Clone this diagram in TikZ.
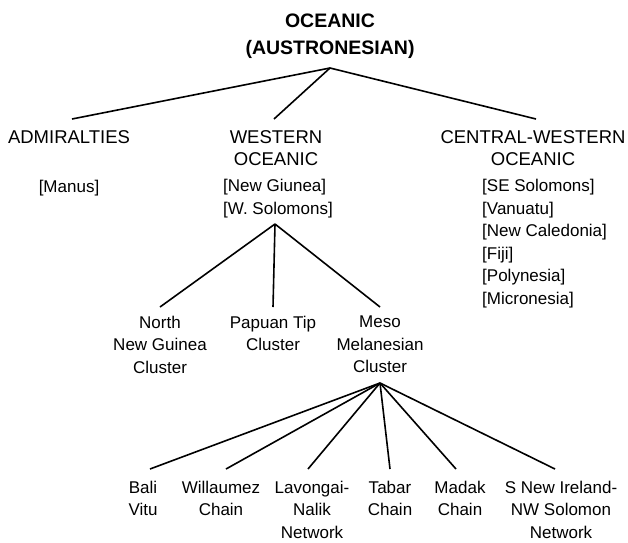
\documentclass[tikz,border=0pt]{standalone}
\usepackage{fontspec}
\setmainfont{Liberation Sans}
\begin{document}
\begin{tikzpicture}[x=1pt,y=-1pt,
  lbl/.style={font=\fontsize{17}{22.5}\selectfont, align=center, inner sep=0pt},
  lst/.style={font=\fontsize{17}{22.5}\selectfont, align=left, inner sep=0pt, anchor=north west},
  ttl/.style={font=\bfseries\fontsize{19.5}{27}\selectfont, align=center, inner sep=0pt, anchor=north},
  lvA/.style={lbl, font=\fontsize{18.5}{22.5}\selectfont, anchor=north, outer ysep=11.4pt},
  lvB/.style={lbl, anchor=north, outer ysep=9pt},
  lvC/.style={lbl, anchor=north, outer ysep=12pt},
  conn/.style={line width=1.6pt}]
\useasboundingbox (0,0) rectangle (628,542);
% title
\node[ttl] (root) at (330,13.2) {OCEANIC\\(AUSTRONESIAN)};
\coordinate (rootj) at (330,68);
% level 1
\node[lvA] (adm) at (69,119) {ADMIRALTIES};
\node[lvA] (wes) at (276,119) {WESTERN\\OCEANIC};
\node[lvA] (cwo) at (533,119) {CENTRAL-WESTERN\\OCEANIC};
\node[lbl, anchor=north] (manus) at (69,179.9) {[Manus]};
\node[lst] (wesl) at (223,179.4) {[New Giunea]\\{[W. Solomons]}};
\node[lst] (cwol) at (482,179.4) {[SE Solomons]\\{[Vanuatu]}\\{[New Caledonia]}\\{[Fiji]}\\{[Polynesia]}\\{[Micronesia]}};
\draw[conn] (rootj) -- ([xshift=3pt]adm.north);
\draw[conn] (rootj) -- ([xshift=-2pt]wes.north);
\draw[conn] (rootj) -- ([xshift=3pt]cwo.north);
% level 2
\coordinate (wesj) at (275,224);
\node[lvB] (nng) at (160,307) {North\\New Guinea\\Cluster};
\node[lvB] (pap) at (273,307) {Papuan Tip\\Cluster};
\node[lvB] (meso) at (380,307) {Meso\\Melanesian\\Cluster};
\draw[conn] (wesj) -- (nng.north);
\draw[conn] (wesj) -- (pap.north);
\draw[conn] (wesj) -- (meso.north);
% level 3
\coordinate (mesoj) at (380,383);
\node[lvC] (bali) at (143,469) {Bali\\Vitu};
\node[lvC] (will) at (221,469) {Willaumez\\Chain};
\node[lvC] (lav) at (312,469) {Lavongai-\\Nalik\\Network};
\node[lvC] (tab) at (390,469) {Tabar\\Chain};
\node[lvC] (mad) at (460,469) {Madak\\Chain};
\node[lvC] (sni) at (561,469) {S New Ireland-\\NW Solomon\\Network};
\draw[conn] (mesoj) -- ([xshift=7pt]bali.north);
\draw[conn] (mesoj) -- ([xshift=5pt]will.north);
\draw[conn] (mesoj) -- ([xshift=-4pt]lav.north);
\draw[conn] (mesoj) -- (tab.north);
\draw[conn] (mesoj) -- ([xshift=-4pt]mad.north);
\draw[conn] (mesoj) -- ([xshift=-6pt]sni.north);
\end{tikzpicture}
\end{document}
